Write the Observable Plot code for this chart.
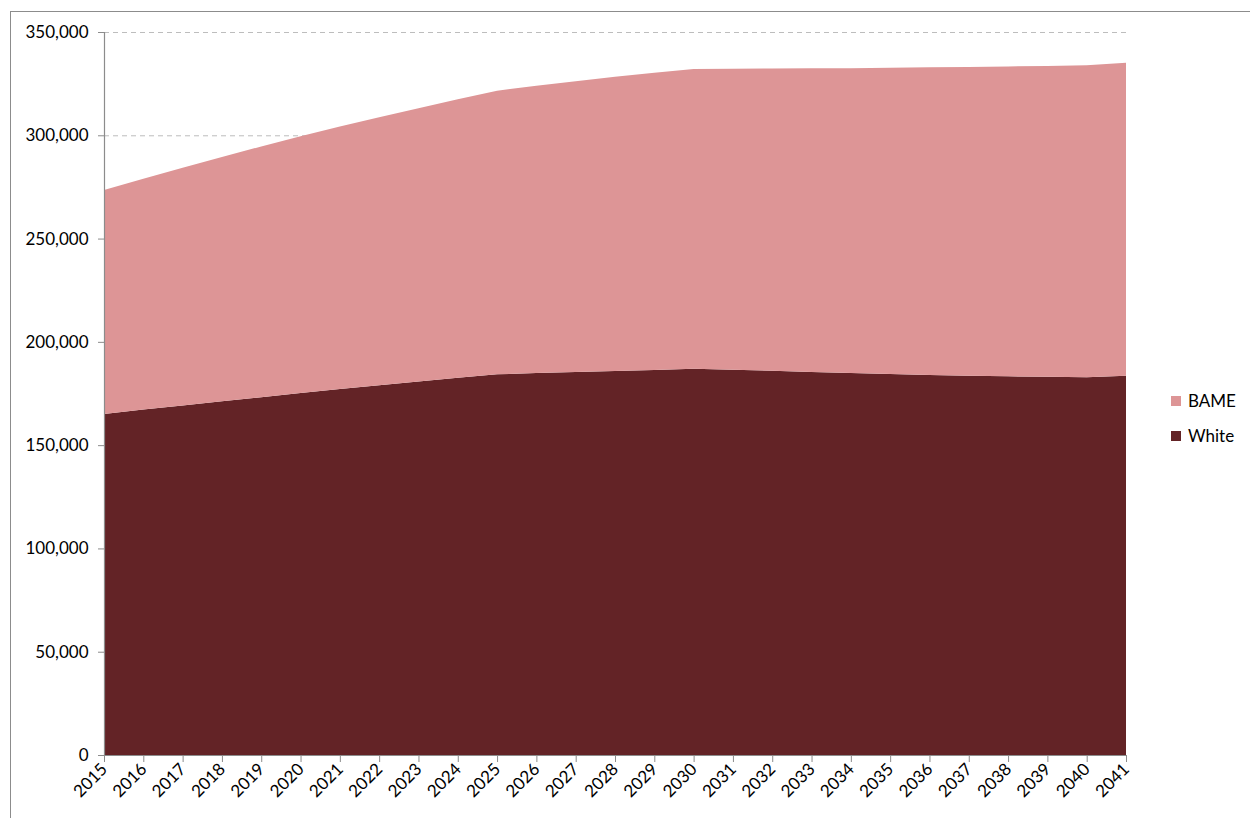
<!DOCTYPE html>
<html>
<head>
<meta charset="utf-8">
<script src="https://cdn.jsdelivr.net/npm/d3@7"></script>
<script src="https://cdn.jsdelivr.net/npm/@observablehq/plot@0.6"></script>
<style>
  html, body { margin: 0; padding: 0; background: #fff; }
  body { width: 1250px; height: 818px; position: relative; overflow: hidden; font-family: Lato, "Open Sans", sans-serif; }
  #frame { position: absolute; left: 10px; top: 11px; width: 1300px; height: 900px; border-left: 1px solid #8c8c8c; border-top: 1px solid #8c8c8c; }
  #chart { position: absolute; left: 0; top: 0; }
  .leg { position: absolute; left: 1171px; font-size: 17px; color: #000; display: flex; align-items: center; }
  .leg span.sw { width: 10px; height: 10px; display: inline-block; margin-right: 7px; }
</style>
</head>
<body>
<div id="frame"></div>
<div id="chart"></div>
<div class="leg" style="top:390px"><span class="sw" style="background:#dd9596"></span>BAME</div>
<div class="leg" style="top:425px"><span class="sw" style="background:#632326"></span>White</div>
<script>
const years = [2015,2016,2017,2018,2019,2020,2021,2022,2023,2024,2025,2026,2027,2028,2029,2030,2031,2032,2033,2034,2035,2036,2037,2038,2039,2040,2041];
const white = [165100,167200,169200,171200,173200,175300,177200,179000,180800,182600,184300,184900,185400,185900,186400,187000,186500,186000,185400,184900,184400,184000,183600,183300,183100,182900,183600];
const bame  = [108400,111800,115100,118300,121400,124200,127000,129700,132300,134800,137300,139100,140800,142400,143900,145100,145700,146300,147000,147600,148300,148900,149500,150000,150500,151000,151500];
const series = ["White","BAME"];
const colors = ["#632326","#dd9596"];
const yTicks = [0,50000,100000,150000,200000,250000,300000,350000];
const gridTicks = [300000,350000];

const data = [];
years.forEach((yr,i) => {
  data.push({year: yr, group: "White", value: white[i]});
  data.push({year: yr, group: "BAME", value: bame[i]});
});

const fmt = d3.format(",");
const chart = Plot.plot({
  width: 1250,
  height: 818,
  marginLeft: 104,
  marginRight: 124,
  marginTop: 32,
  marginBottom: 63,
  style: {fontFamily: "Lato, 'Open Sans', sans-serif", fontSize: "17px", color: "#000", background: "transparent"},
  x: {domain: [2015, 2041]},
  y: {domain: [0, 350000]},
  color: {domain: series, range: colors},
  marks: [
    Plot.ruleY(gridTicks, {stroke: "#bdbdbd", strokeDasharray: "5,4", strokeWidth: 1}),
    Plot.areaY(data, {x: "year", y: "value", fill: "group", order: series, fillOpacity: 1}),
    Plot.ruleX([2015], {stroke: "#8c8c8c", strokeWidth: 1.2}),
    Plot.ruleY([0], {stroke: "#8c8c8c", strokeWidth: 1.2}),
    Plot.axisY({ticks: yTicks, tickFormat: fmt, tickSize: 6, tickPadding: 10, stroke: "#8c8c8c", label: null, fontSize: 17}),
    Plot.axisX({ticks: years, tickFormat: d => String(d), tickSize: 7, tickPadding: 4, tickRotate: -45, stroke: "#8c8c8c", label: null, fontSize: 17})
  ]
});
document.getElementById("chart").appendChild(chart);
</script>
</body>
</html>
